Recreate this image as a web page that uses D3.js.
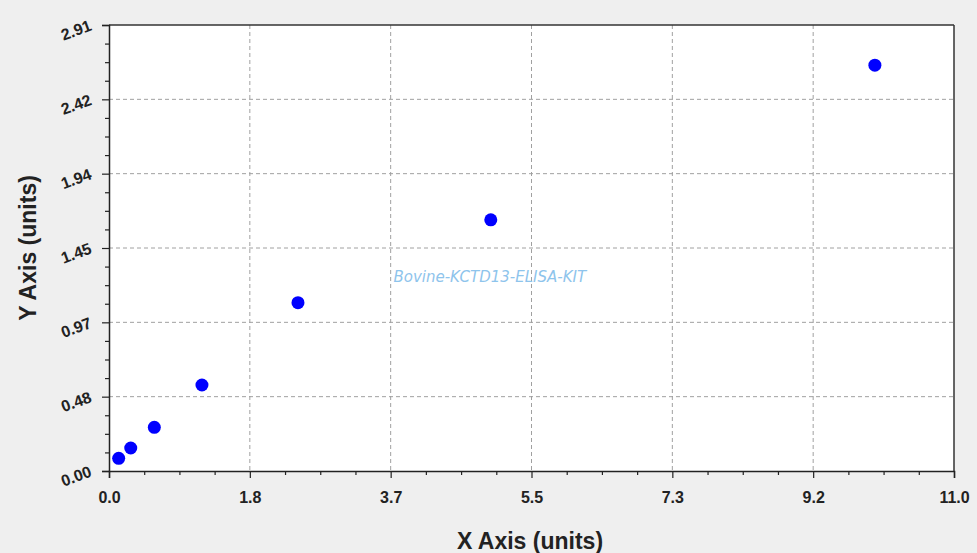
<!DOCTYPE html>
<html><head><meta charset="utf-8">
<script src="https://cdn.jsdelivr.net/npm/d3@7"></script>
<style>
body{margin:0;background:#efefef;}
svg{display:block;}
</style></head>
<body>
<script>
const xValues = [0.126, 0.283, 0.59, 1.21, 2.46, 4.97, 9.97];
const yValues = [0.083, 0.15, 0.285, 0.561, 1.098, 1.639, 2.648];
const xTickLabels = ["0.0","1.8","3.7","5.5","7.3","9.2","11.0"];
const yTickLabels = ["0.00","0.48","0.97","1.45","1.94","2.42","2.91"];
const xMax = 11.0, yMax = 2.91;
const watermark = "Bovine-KCTD13-ELISA-KIT";

const W=977,H=553;
const m={l:109,t:25,r:954,b:471};
const svg=d3.select("body").append("svg").attr("width",W).attr("height",H);
svg.append("rect").attr("width",W).attr("height",H).attr("fill","#efefef");
const x=d3.scaleLinear().domain([0,xMax]).range([m.l,m.r]);
const y=d3.scaleLinear().domain([0,yMax]).range([m.b,m.t]);
svg.append("rect").attr("x",m.l).attr("y",m.t).attr("width",m.r-m.l).attr("height",m.b-m.t).attr("fill","#fff");

const xMajor=d3.range(7).map(i=>i*xMax/6);
const yMajor=d3.range(7).map(i=>i*yMax/6);
const xMinor=d3.range(25).map(i=>i*xMax/24);
const yMinor=d3.range(25).map(i=>i*yMax/24);

// grid
svg.append("g").selectAll("line").data(xMajor.slice(1,6)).join("line")
 .attr("x1",d=>x(d)).attr("x2",d=>x(d)).attr("y1",m.t).attr("y2",m.b)
 .attr("stroke","#a0a0a0").attr("stroke-dasharray","4,3").attr("stroke-width",1);
svg.append("g").selectAll("line").data(yMajor.slice(1,6)).join("line")
 .attr("y1",d=>y(d)).attr("y2",d=>y(d)).attr("x1",m.l).attr("x2",m.r)
 .attr("stroke","#a0a0a0").attr("stroke-dasharray","4,3").attr("stroke-width",1);

// borders
svg.append("line").attr("x1",m.l).attr("x2",m.r).attr("y1",m.t).attr("y2",m.t).attr("stroke","#333").attr("stroke-width",1.5);
svg.append("line").attr("x1",m.r).attr("x2",m.r).attr("y1",m.t).attr("y2",m.b).attr("stroke","#333").attr("stroke-width",1.5);

// axes
const xAxis=d3.axisBottom(x).tickValues(xMajor).tickSize(7).tickFormat((d,i)=>xTickLabels[i]);
const gx=svg.append("g").attr("transform",`translate(0,${m.b})`).call(xAxis);
const xMinorAxis=d3.axisBottom(x).tickValues(xMinor.filter((d,i)=>i%4)).tickSize(4).tickFormat("");
svg.append("g").attr("transform",`translate(0,${m.b})`).call(xMinorAxis).select(".domain").remove();
const yAxis=d3.axisLeft(y).tickValues(yMajor).tickSize(7).tickFormat((d,i)=>yTickLabels[i]);
const gy=svg.append("g").attr("transform",`translate(${m.l},0)`).call(yAxis);
const yMinorAxis=d3.axisLeft(y).tickValues(yMinor.filter((d,i)=>i%4)).tickSize(4).tickFormat("");
svg.append("g").attr("transform",`translate(${m.l},0)`).call(yMinorAxis).select(".domain").remove();

svg.selectAll(".domain").attr("stroke","#222").attr("stroke-width",1.5);
svg.selectAll(".tick line").attr("stroke","#222").attr("stroke-width",1.2);

gx.selectAll(".tick text").attr("font-family","Liberation Sans, Arial, sans-serif")
 .attr("font-weight","bold").attr("font-size",16).attr("fill","#222").attr("dy","1.4em");
gy.selectAll(".tick text").attr("font-family","Liberation Sans, Arial, sans-serif")
 .attr("font-weight","bold").attr("font-size",16).attr("fill","#222")
 .attr("x",-18).attr("dy","0.3em")
 .attr("transform",function(){return "rotate(-20,-18,0)";});

// watermark
svg.append("text").attr("x",x(4.97)-1).attr("y",y(1.23)).attr("text-anchor","middle")
 .attr("font-family","DejaVu Sans, sans-serif").attr("font-style","italic").attr("font-size",15)
 .attr("fill","#8ec4ec").text(watermark);

// points
svg.append("g").selectAll("circle").data(xValues.map((v,i)=>[v,yValues[i]])).join("circle")
 .attr("cx",d=>x(d[0])).attr("cy",d=>y(d[1])).attr("r",6.5).attr("fill","#0000ff");

// titles
svg.append("text").attr("x",530).attr("y",549).attr("text-anchor","middle")
 .attr("font-family","Liberation Sans, Arial, sans-serif").attr("font-weight","bold").attr("font-size",23)
 .attr("fill","#222").text("X Axis (units)");
svg.append("text").attr("transform","translate(36,248) rotate(-90)").attr("text-anchor","middle")
 .attr("font-family","Liberation Sans, Arial, sans-serif").attr("font-weight","bold").attr("font-size",23)
 .attr("fill","#222").text("Y Axis (units)");
</script>
</body></html>
